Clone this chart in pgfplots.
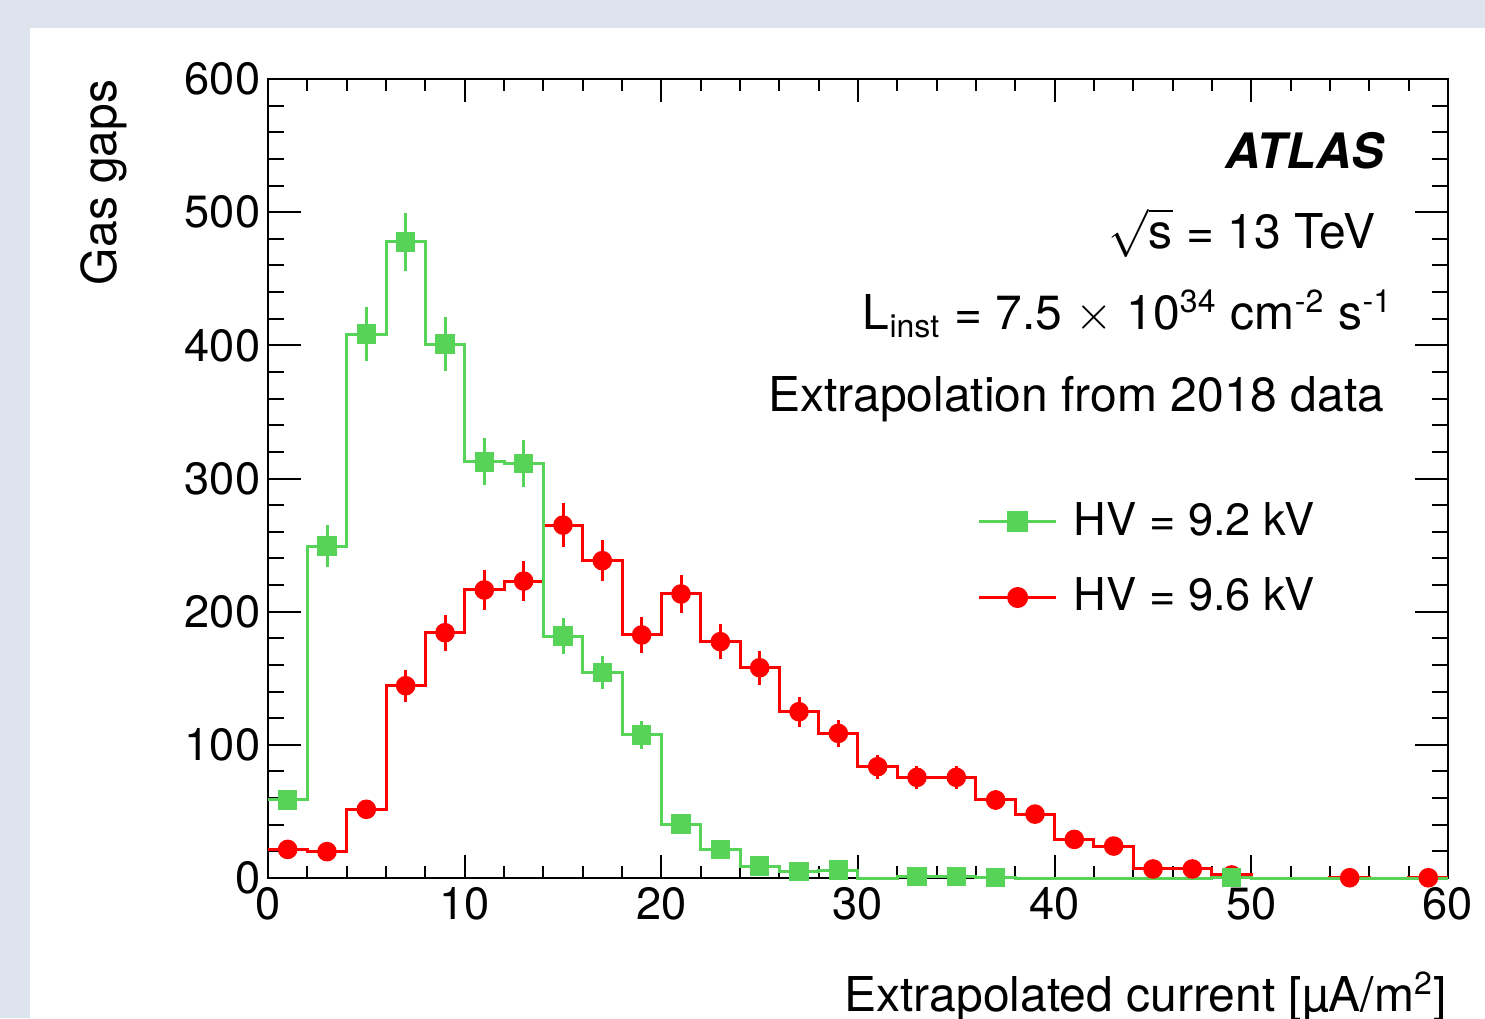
\documentclass[border=0pt]{standalone}
\usepackage{fontspec}
\setmainfont{TeX Gyre Heros}
\usepackage{pgfplots}
\pgfplotsset{compat=1.18}
\usepackage{pgfplotstable}
\definecolor{rootgreen}{RGB}{87,212,87}
\definecolor{rootred}{RGB}{255,0,0}
\definecolor{slidebg}{RGB}{221,228,238}

% bin centres, contents and errors
\pgfplotstableread{
x y ey
1 58.6 7.7
3 249.3 15.8
5 408.3 20.2
7 477.8 21.9
9 401.0 20.0
11 312.6 17.7
13 311.4 17.6
15 181.7 13.5
17 154.2 12.4
19 107.6 10.4
21 40.5 6.4
23 21.5 4.6
25 9.0 3.0
27 4.8 2.2
29 6.0 2.4
33 1.0 1.0
35 1.0 1.0
37 0.3 0.5
49 0.3 0.5
}\greenpts

\pgfplotstableread{
x y ey
1 21.5 4.6
3 19.8 4.5
5 51.6 7.2
7 144.4 12.0
9 184.2 13.6
11 216.3 14.7
13 223.0 14.9
15 265.0 16.3
17 238.3 15.4
19 182.5 13.5
21 213.3 14.6
23 177.5 13.3
25 157.9 12.6
27 124.9 11.2
29 108.6 10.4
31 83.6 9.1
33 75.6 8.7
35 75.6 8.7
37 58.6 7.7
39 48.0 6.9
41 29.0 5.4
43 24.0 4.9
45 6.8 2.6
47 6.8 2.6
49 2.3 1.5
55 0.2 0.4
59 0.2 0.4
}\redpts

% left bin edges for the step outlines
\pgfplotstableread{
x y
0 58.6
2 249.3
4 408.3
6 477.8
8 401.0
10 312.6
12 311.4
14 181.7
16 154.2
18 107.6
20 40.5
22 21.5
24 9.0
26 4.8
28 6.0
30 0
32 1.0
34 1.0
36 0.3
38 0
48 0.3
50 0
60 0
}\greenstep

\pgfplotstableread{
x y
0 21.5
2 19.8
4 51.6
6 144.4
8 184.2
10 216.3
12 223.0
14 265.0
16 238.3
18 182.5
20 213.3
22 177.5
24 157.9
26 124.9
28 108.6
30 83.6
32 75.6
34 75.6
36 58.6
38 48.0
40 29.0
42 24.0
44 6.8
46 6.8
48 2.3
50 0
54 0.2
56 0
58 0.2
60 0.2
}\redstep

\begin{document}
\begin{tikzpicture}
\useasboundingbox (0,0) rectangle (371.25pt,-254.5pt);
\fill[slidebg] (0,0) rectangle (371.25pt,-254.5pt);
\fill[white] (7.6pt,-6.9pt) rectangle (371.25pt,-254.5pt);
\begin{axis}[
  at={(67pt,-219.5pt)}, anchor=south west,
  scale only axis, width=295pt, height=199.75pt,
  xmin=0, xmax=60, ymin=0, ymax=600,
  xtick={0,10,...,60}, ytick={0,100,...,600},
  minor x tick num=4, minor y tick num=4,
  tick align=inside,
  axis line style={line width=0.5pt},
  every tick/.style={black, line width=0.5pt},
  xtick style={/pgfplots/major tick length=5.75pt, /pgfplots/minor tick length=2.9pt},
  ytick style={/pgfplots/major tick length=8.25pt, /pgfplots/minor tick length=4.1pt},
  /pgf/number format/assume math mode=true,
  ticklabel style={font=\fontsize{11.3}{13}\selectfont, inner sep=0pt},
  xticklabel style={anchor=north, yshift=-2.25pt},
  yticklabel style={anchor=east, xshift=-1.75pt},
  xlabel={Extrapolated current [µA/m\textsuperscript{2}]},
  ylabel={Gas gaps},
  label style={font=\fontsize{12}{14}\selectfont, inner sep=0pt},
  xlabel style={at={(axis description cs:1,-0.1673)}, anchor=base east},
  ylabel style={at={(axis description cs:-0.128,1)}, anchor=base east, rotate=0},
  clip=false,
  legend cell align=left,
  legend image code/.code={%
    \draw[mark repeat=2, mark phase=2] plot coordinates {(0pt,0pt) (9.6pt,0pt) (19.25pt,0pt)};},
  legend style={at={(0.6008,0.3986)}, anchor=west, draw=none, fill=none,
    inner sep=0pt, font=\fontsize{11.3}{13}\selectfont,
    column sep=4pt, row sep=9.25pt, nodes={inner sep=0pt}},
]
\addlegendimage{rootgreen, line width=0.75pt, mark=square*, mark size=2.25pt}
\addlegendentry{HV = 9.2 kV}
\addlegendimage{rootred, line width=0.75pt, mark=*, mark size=2.25pt}
\addlegendentry{HV = 9.6 kV}

\addplot[rootred, line width=0.75pt, const plot, forget plot] table[x=x, y=y] {\redstep};
\addplot[rootred, only marks, mark=*, mark size=2.25pt, forget plot,
  error bars/.cd, y dir=both, y explicit, error mark=none,
  error bar style={rootred, line width=0.75pt}]
  table[x=x, y=y, y error=ey] {\redpts};

\addplot[rootgreen, line width=0.75pt, const plot, forget plot] table[x=x, y=y] {\greenstep};
\addplot[rootgreen, only marks, mark=square*, mark size=2.25pt, forget plot,
  error bars/.cd, y dir=both, y explicit, error mark=none,
  error bar style={rootgreen, line width=0.75pt}]
  table[x=x, y=y, y error=ey] {\greenpts};

\node[anchor=base east, inner sep=0pt, font=\fontsize{12.2}{14}\selectfont\bfseries\itshape]
  at (axis description cs:0.9466,0.8886) {ATLAS};
\node[anchor=base east, inner sep=0pt, font=\fontsize{12}{14}\selectfont]
  at (axis description cs:0.939,0.7881) {$\sqrt{\mbox{s}}$ = 13 TeV};
\node[anchor=base east, inner sep=0pt, font=\fontsize{12}{14}\selectfont]
  at (axis description cs:0.9542,0.6859)
  {L\textsubscript{inst} = 7.5 $\times$ 10\textsuperscript{34} cm\textsuperscript{-2} s\textsuperscript{-1}};
\node[anchor=base east, inner sep=0pt, font=\fontsize{12}{14}\selectfont]
  at (axis description cs:0.9466,0.5836) {Extrapolation from 2018 data};
\end{axis}
\end{tikzpicture}
\end{document}
